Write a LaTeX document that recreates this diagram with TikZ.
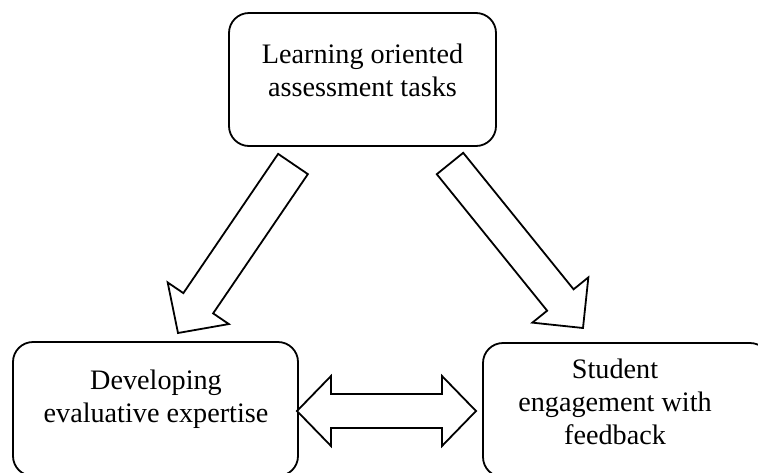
\documentclass[tikz,border=0pt]{standalone}
\usepackage{fontspec}
\setmainfont{Liberation Serif}
\usetikzlibrary{calc}

% block arrow from tail #1 to tip #2: shaft half-width #3, head half-width #4, head length #5
\newcommand{\blockarrow}[5]{%
  \coordinate (hb) at ($(#2)!#5!(#1)$);
  \draw[blk] ($(#1)!#3!90:(#2)$) -- ($(hb)!#3!90:(#2)$) -- ($(hb)!#4!90:(#2)$)
    -- (#2) -- ($(hb)!#4!-90:(#2)$) -- ($(hb)!#3!-90:(#2)$)
    -- ($(#1)!#3!-90:(#2)$) -- cycle;}

% two-headed block arrow between tips #1 and #2
\newcommand{\twowayarrow}[5]{%
  \coordinate (ha) at ($(#1)!#5!(#2)$);
  \coordinate (hz) at ($(#2)!#5!(#1)$);
  \draw[blk] (#1) -- ($(ha)!#4!90:(#2)$) -- ($(ha)!#3!90:(#2)$)
    -- ($(hz)!#3!-90:(#1)$) -- ($(hz)!#4!-90:(#1)$) -- (#2)
    -- ($(hz)!#4!90:(#1)$) -- ($(hz)!#3!90:(#1)$)
    -- ($(ha)!#3!-90:(#2)$) -- ($(ha)!#4!-90:(#2)$) -- cycle;}

\begin{document}
\begin{tikzpicture}[x=1pt,y=-1pt,
  box/.style={draw, line width=1.8pt, rounded corners=20pt, inner sep=0pt},
  lbl/.style={align=center, font=\fontsize{28.2}{33}\selectfont, inner sep=0pt},
  blk/.style={draw, line width=1.8pt, line join=miter, fill=white}]
\useasboundingbox (0,0) rectangle (758,472);
\clip (0,0) rectangle (758,472);

% boxes
\node[box, minimum width=267pt, minimum height=133pt] (top) at (362.5,79.5) {};
\node[box, minimum width=285pt, minimum height=134pt] (left) at (155.5,409) {};
\node[box, minimum width=287pt, minimum height=134pt] (right) at (626.5,410) {};

% labels
\node[lbl] (toptxt) at (362.5,70) {Learning oriented\\assessment tasks};
\node[lbl] (lefttxt) at (156,399) {Developing\\evaluative expertise};
\node[lbl] (righttxt) at (615,402) {Student\\engagement with\\feedback};

% arrow end points
\coordinate (lt) at (293,164);
\coordinate (lh) at (178,333);
\coordinate (rt) at (450,163.5);
\coordinate (rh) at (583,328);
\coordinate (dl) at (297,411);
\coordinate (dr) at (476,411);

\blockarrow{lt}{lh}{18pt}{37pt}{36pt}
\blockarrow{rt}{rh}{17pt}{36pt}{36pt}
\twowayarrow{dl}{dr}{17pt}{35pt}{34pt}
\end{tikzpicture}
\end{document}
